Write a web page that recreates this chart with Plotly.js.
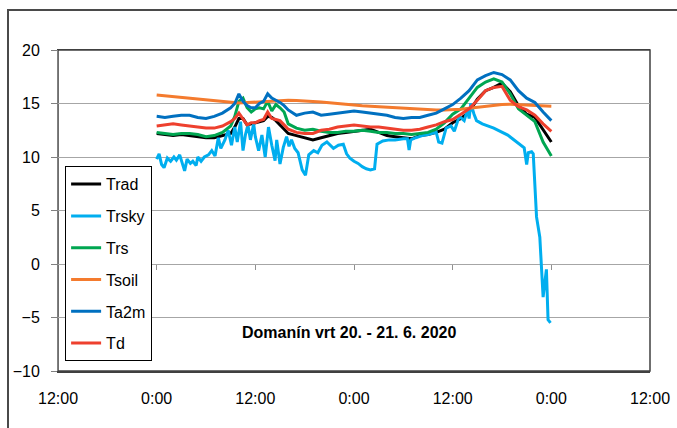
<!DOCTYPE html>
<html>
<head>
<meta charset="utf-8">
<script src="https://cdn.plot.ly/plotly-3.0.1.min.js"></script>
<style>
html,body{margin:0;padding:0;background:#fff;overflow:hidden;}
#frame{position:absolute;left:7px;top:9px;width:720px;height:480px;border:2px solid #4a4a4a;}
#chart{position:absolute;left:0;top:0;width:677px;height:428px;}
</style>
</head>
<body>
<div id="frame"></div>
<div id="chart"></div>
<script>
// hours since 2020-06-20 00:00
const hours = [0,1,2,3,4,5,6,7,8,9,9.5,10,10.5,11,11.5,12,12.5,13,13.5,14,14.5,15,15.5,16,17,18,19,20,21,22,23,24,25,26,27,28,29,30,31,32,33,34,35,36,37,38,39,40,41,42,43,44,45,46,47,48];
const Trad = [12.2,12.1,12.0,12.1,12.0,11.9,11.8,11.8,12.0,12.2,12.8,13.6,13.6,13.0,13.1,13.2,13.3,13.4,13.8,13.7,13.4,13.0,12.5,12.2,12.0,11.8,11.6,11.8,12.0,12.2,12.3,12.4,12.5,12.6,12.3,12.0,11.9,11.8,11.7,12.0,12.1,12.3,12.6,13.2,13.6,14.2,15.4,16.2,16.5,16.9,16.1,14.8,14.0,13.7,12.6,11.4];
const Trs = [12.3,12.2,12.1,12.2,12.2,12.1,11.9,12.0,12.3,12.9,13.8,15.2,15.5,14.6,14.2,14.5,14.6,14.5,15.2,14.3,14.9,14.6,14.2,13.1,12.7,12.5,12.6,12.4,12.3,12.3,12.4,12.4,12.5,12.4,12.3,12.3,12.2,12.2,12.1,12.2,12.3,12.6,13.2,14.0,14.5,15.5,16.5,17.0,17.3,17.0,15.9,14.5,13.9,13.3,11.4,10.1];
const Tsoil = [15.8,15.72,15.65,15.58,15.5,15.42,15.35,15.28,15.2,15.12,15.08,15.05,15.06,15.08,15.1,15.15,15.18,15.2,15.22,15.25,15.27,15.28,15.29,15.3,15.28,15.25,15.2,15.15,15.08,15.0,14.92,14.85,14.8,14.75,14.7,14.65,14.6,14.55,14.5,14.45,14.42,14.4,14.4,14.4,14.47,14.55,14.65,14.75,14.82,14.9,14.93,14.9,14.85,14.8,14.78,14.75];
const Ta2m = [13.8,13.7,13.8,13.9,13.9,13.7,13.6,13.8,14.1,14.6,15.0,15.9,15.2,14.8,14.6,14.6,15.0,15.2,15.9,15.5,15.3,15.1,14.8,14.4,13.9,14.1,14.2,13.9,14.0,14.1,14.2,14.3,14.2,14.1,14.0,13.9,13.7,13.6,13.7,13.7,13.9,14.1,14.5,14.9,15.5,16.2,17.2,17.6,17.9,17.7,17.2,16.2,15.5,15.1,14.2,13.4];
const Td = [12.9,13.0,13.1,13.0,12.9,12.8,12.7,12.7,12.9,13.3,13.6,14.1,13.6,13.0,13.2,13.2,13.4,13.5,14.2,13.6,13.5,13.4,13.0,12.6,12.3,12.2,12.2,12.5,12.6,12.8,12.9,13.0,12.9,12.8,12.8,12.7,12.6,12.5,12.5,12.6,12.8,13.0,13.3,13.5,14.0,14.5,15.3,16.2,16.5,16.6,15.3,14.7,14.4,13.9,13.1,12.4];
const skyHours = [0,0.3,0.6,0.9,1.3,1.7,2.1,2.4,2.8,3.1,3.4,3.7,4.1,4.4,4.8,5.0,5.4,5.8,6.3,6.7,7.1,7.5,7.8,8.3,8.7,9.1,9.5,9.8,10.2,10.5,10.8,11.1,11.4,11.8,12.0,12.4,12.8,13.2,13.6,14.0,14.4,14.6,15.0,15.4,15.8,16.1,16.4,16.8,17.2,17.7,18.1,18.5,19.1,19.6,20.1,20.7,21.5,22.1,22.7,23.1,23.5,24.0,24.5,25.0,25.5,26.0,26.5,26.8,27.5,28.3,29.0,30.0,30.5,30.7,30.9,31.5,32.3,33.0,34.0,34.3,34.7,35.2,35.8,36.2,36.8,37.4,37.8,38.0,38.2,38.6,38.9,39.6,41.0,42.7,43.9,44.7,45.0,45.2,45.6,45.8,46.2,46.6,47.0,47.4,47.6,47.9];
const Trsky = [9.8,10.3,9.3,9.0,9.9,9.6,10.0,9.7,10.2,9.5,8.7,9.8,9.4,9.6,9.2,10.0,9.6,10.0,10.2,10.6,10.1,11.8,10.8,11.6,12.5,11.1,12.8,11.4,13.3,10.6,12.1,13.0,11.6,13.1,11.9,10.6,12.05,10.0,12.8,11.1,9.65,11.6,9.35,10.9,11.9,11.0,11.6,10.8,10.4,8.8,8.3,10.2,10.6,10.4,11.1,11.4,10.8,11.1,11.2,10.3,9.9,9.6,9.4,9.1,8.9,8.8,8.9,11.2,11.5,11.6,11.6,11.7,11.7,10.65,11.6,11.8,12.0,12.1,12.3,11.4,11.3,12.7,12.9,12.4,13.8,13.4,14.4,13.6,15.0,14.0,13.4,13.1,12.7,12.05,11.3,10.85,9.3,10.4,10.5,10.3,4.4,2.5,-3.1,-0.5,-5.2,-5.5];

const xTickVals = ['2020-06-19 12:00','2020-06-20 00:00','2020-06-20 12:00','2020-06-21 00:00','2020-06-21 12:00','2020-06-22 00:00','2020-06-22 12:00'];
const xTickText = ['12:00','0:00','12:00','0:00','12:00','0:00','12:00'];
const xRange = ['2020-06-19 12:00','2020-06-22 12:00'];
const titleText = 'Domanín vrt 20. - 21. 6. 2020';

const base = Date.UTC(2020,5,20,0,0,0);
function toDate(h){
  const d = new Date(base + h*3600000);
  const p = n => String(n).padStart(2,'0');
  return d.getUTCFullYear()+'-'+p(d.getUTCMonth()+1)+'-'+p(d.getUTCDate())+' '+p(d.getUTCHours())+':'+p(d.getUTCMinutes())+':'+p(d.getUTCSeconds());
}
const xMain = hours.map(toDate);
const xSky = skyHours.map(toDate);

const series = [
  {name:'Trad', x:xMain, y:Trad, color:'#000000'},
  {name:'Trsky', x:xSky, y:Trsky, color:'#00AEEF'},
  {name:'Trs', x:xMain, y:Trs, color:'#00A651'},
  {name:'Tsoil', x:xMain, y:Tsoil, color:'#F47B2E'},
  {name:'Ta2m', x:xMain, y:Ta2m, color:'#0070C0'},
  {name:'Td', x:xMain, y:Td, color:'#EE402E'}
];
const traces = series.map((s,i)=>({
  type:'scatter', mode:'lines', name:s.name, x:s.x, y:s.y,
  line:{color:s.color, width:3}, legendgroup:'g'+i
}));
// empty helper trace so the zero-crossing tick axis is drawn
traces.push({type:'scatter', mode:'lines', x:[], y:[], xaxis:'x2', yaxis:'y', showlegend:false, hoverinfo:'skip'});

const font = {family:'"Liberation Sans", Arial, sans-serif', size:16, color:'#000'};
const layout = {
  width:677, height:428,
  margin:{l:58, r:27, t:50, b:57, pad:0},
  paper_bgcolor:'rgba(0,0,0,0)', plot_bgcolor:'#fff',
  font:font,
  showlegend:true,
  legend:{x:0.012, y:0.638, xanchor:'left', yanchor:'top', bgcolor:'#fff', bordercolor:'#000', borderwidth:1,
          font:font, traceorder:'grouped', tracegroupgap:8, itemwidth:30},
  xaxis:{type:'date', range:xRange, tickmode:'array', tickvals:xTickVals, ticktext:xTickText,
         ticks:'outside', ticklen:12, tickcolor:'rgba(0,0,0,0)', showgrid:false, zeroline:false,
         showline:true, linecolor:'#404040', linewidth:1.5, mirror:true, tickfont:font},
  xaxis2:{type:'date', range:xRange, overlaying:'x', anchor:'free', position:1/3, side:'bottom',
          tickmode:'array', tickvals:xTickVals.slice(1,6), ticks:'outside', ticklen:5, tickcolor:'#909090',
          showticklabels:false, showgrid:false, zeroline:false, showline:false},
  yaxis:{range:[-10,20], dtick:5, tick0:0, showgrid:true, gridcolor:'#A6A6A6', gridwidth:1, zeroline:false,
         showline:true, linecolor:'#808080', linewidth:1, ticks:'outside', ticklen:6, tickcolor:'#808080',
         ticklabelstandoff:8, tickfont:font},
  annotations:[{xref:'paper', yref:'paper', x:0.491, y:0.086, text:'<b>'+titleText+'</b>', showarrow:false,
                font:{family:font.family, size:16, color:'#000'}}],
  shapes:[{type:'rect', xref:'paper', yref:'paper', x0:0, x1:1, y0:0, y1:1, line:{color:'#404040', width:1.5}, layer:'below'}]
};
Plotly.newPlot('chart', traces, layout, {staticPlot:true, displayModeBar:false});
</script>
</body>
</html>
